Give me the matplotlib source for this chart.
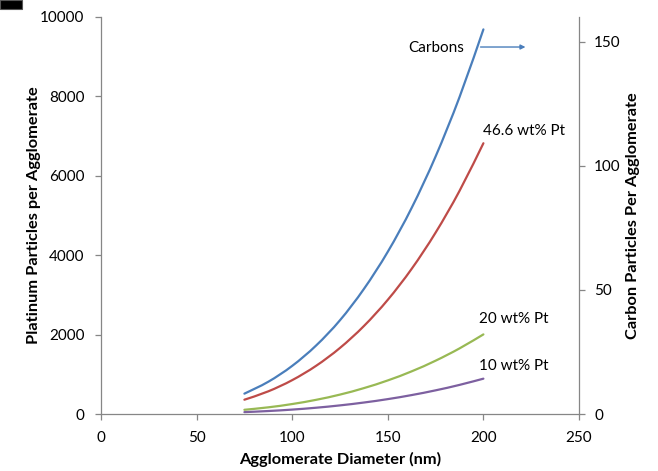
import matplotlib
matplotlib.use("Agg")
import matplotlib.pyplot as plt
from matplotlib.patches import Rectangle, PathPatch
from matplotlib.path import Path

plt.rcParams['font.family'] = ['Lato', 'DejaVu Sans']

# Agglomerate diameter (nm)
diameter = [75, 87.5, 100, 112.5, 125, 137.5, 150, 162.5, 175, 187.5, 200]

# Carbon particles per agglomerate (right axis)
carbons = [8.2, 13.0, 19.4, 27.6, 37.8, 50.4, 65.4, 83.1, 103.8, 127.7, 155]

# Platinum particles per agglomerate (left axis)
pt_46_6 = [360, 571, 853, 1214, 1665, 2216, 2877, 3658, 4569, 5619, 6820]
pt_20 = [106, 168, 251, 357, 489, 652, 846, 1075, 1343, 1652, 2005]
pt_10 = [47, 75, 111, 158, 217, 289, 375, 477, 596, 733, 890]

x_ticks = [0, 50, 100, 150, 200, 250]
left_ticks = [0, 2000, 4000, 6000, 8000, 10000]
right_ticks = [0, 50, 100, 150]

c_blue = '#4A7EBB'
c_red = '#BE4B48'
c_green = '#98B954'
c_purple = '#7D60A0'
c_axis = '#868686'


def smooth_line(axis, xs, ys, color, lw=1.6):
    """Draw a smoothed (Catmull-Rom style Bezier) line through the points."""
    pts = list(zip(xs, ys))
    n = len(pts)
    verts = [pts[0]]
    codes = [Path.MOVETO]
    for i in range(n - 1):
        p0 = pts[i - 1] if i > 0 else pts[i]
        p1 = pts[i]
        p2 = pts[i + 1]
        p3 = pts[i + 2] if i + 2 < n else pts[i + 1]
        c1 = (p1[0] + (p2[0] - p0[0]) / 6, p1[1] + (p2[1] - p0[1]) / 6)
        c2 = (p2[0] - (p3[0] - p1[0]) / 6, p2[1] - (p3[1] - p1[1]) / 6)
        verts += [c1, c2, p2]
        codes += [Path.CURVE4] * 3
    axis.add_patch(PathPatch(Path(verts, codes), facecolor='none',
                             edgecolor=color, lw=lw, capstyle='round',
                             joinstyle='round'))


fig = plt.figure(figsize=(6.58, 4.71), dpi=100)
ax = fig.add_axes([101 / 658, 1 - 414 / 471, 478 / 658, 397 / 471])
ax2 = ax.twinx()

smooth_line(ax, diameter, pt_46_6, c_red)
smooth_line(ax, diameter, pt_20, c_green)
smooth_line(ax, diameter, pt_10, c_purple)
smooth_line(ax2, diameter, carbons, c_blue)

ax.set_xlim(0, 250)
ax.set_ylim(0, 10000)
ax2.set_ylim(0, 160)
ax.set_xticks(x_ticks)
ax.set_yticks(left_ticks)
ax2.set_yticks(right_ticks)

for a in (ax, ax2):
    a.spines['top'].set_visible(False)
    for s in a.spines.values():
        s.set_color(c_axis)
        s.set_linewidth(0.9)
    a.tick_params(colors=c_axis, labelcolor='black', labelsize=11,
                  length=4, width=0.9, direction='out')
ax.spines['right'].set_visible(False)
ax2.spines['left'].set_visible(False)
ax2.spines['bottom'].set_visible(False)
ax.tick_params(axis='y', pad=8)
ax.tick_params(axis='x', pad=8)
ax2.tick_params(axis='y', pad=7)

lab_fs = 11.8
ax.set_xlabel('Agglomerate Diameter (nm)', fontsize=lab_fs, fontweight='bold', labelpad=5)
ax.set_ylabel('Platinum Particles per Agglomerate', fontsize=lab_fs, fontweight='bold', labelpad=-1)
ax2.set_ylabel('Carbon Particles Per Agglomerate', fontsize=lab_fs, fontweight='bold', labelpad=4)

# Series labels
fs = 11
ax.text(190, 9230, 'Carbons', ha='right', va='center', fontsize=fs)
ax.annotate('', xy=(222, 9244), xytext=(198.5, 9244),
            arrowprops=dict(arrowstyle='-|>', color=c_blue, lw=1.0,
                            mutation_scale=7, shrinkA=0, shrinkB=0))
ax.text(200, 7140, '46.6 wt% Pt', ha='left', va='center', fontsize=fs)
ax.text(197.5, 2400, '20 wt% Pt', ha='left', va='center', fontsize=fs)
ax.text(197.5, 1200, '10 wt% Pt', ha='left', va='center', fontsize=fs)

# Small dark block in the upper-left corner
fig.add_artist(Rectangle((0, 1 - 9 / 471), 22 / 658, 9 / 471,
                         transform=fig.transFigure, facecolor='black',
                         edgecolor='#555555', lw=0.8))

fig.savefig('out.png', dpi=100)
